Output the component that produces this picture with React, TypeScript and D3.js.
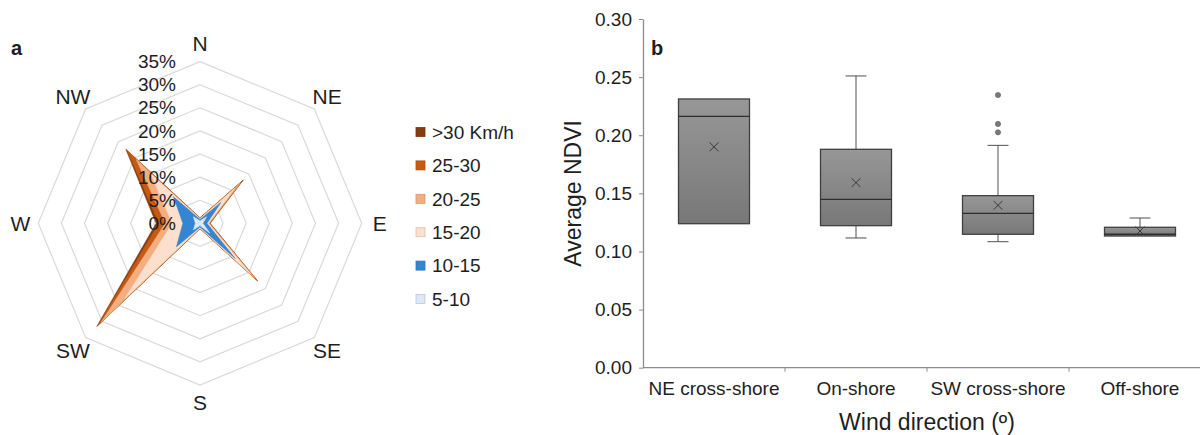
import React, { useEffect, useRef } from 'react';
import * as d3 from 'd3';

// ---- panel a : wind rose (cumulative % per direction) ----
const directions = ['N', 'NE', 'E', 'SE', 'S', 'SW', 'W', 'NW'];
const speedClasses = ['>30 Km/h', '25-30', '20-25', '15-20', '10-15', '5-10'];
const speedColors = ['#863c10', '#c55a14', '#f4ad7e', '#fcdfcc', '#3586d2', '#dbe8f6'];
const over30 = [1.2, 13.3, 2.2, 17.7, 1.2, 31.6, 9.5, 22.7];
const from25to30 = [1.1, 13.0, 2.1, 17.4, 1.1, 31.2, 8.9, 22.2];
const from20to25 = [1.0, 12.3, 2.0, 16.8, 1.0, 30.2, 7.5, 19.5];
const from15to20 = [1.0, 10.5, 1.8, 15.5, 1.0, 23.0, 6.0, 15.0];
const from10to15 = [0.8, 6.4, 1.5, 10.8, 0.8, 7.2, 3.7, 8.1];
const from5to10 = [0.5, 2.0, 0.6, 3.0, 0.5, 2.0, 1.0, 2.0];
const roseSeries = [over30, from25to30, from20to25, from15to20, from10to15, from5to10];
const ringTicks = [0, 5, 10, 15, 20, 25, 30, 35];

// ---- panel b : NDVI box plot ----
const windGroups = ['NE cross-shore', 'On-shore', 'SW cross-shore', 'Off-shore'];
const whiskerLow = [0.1239, 0.1116, 0.1084, 0.1133];
const q1 = [0.1239, 0.1222, 0.1148, 0.1133];
const median = [0.2163, 0.1449, 0.1328, 0.1148];
const q3 = [0.2312, 0.1879, 0.148, 0.1208];
const whiskerHigh = [0.2312, 0.251, 0.1913, 0.1288];
const meanNdvi = [0.19, 0.1592, 0.1397, 0.1176];
const outliers = [[], [], [0.2346, 0.2097, 0.2025], []];
const ndviTicks = [0, 0.05, 0.1, 0.15, 0.2, 0.25, 0.3];

const font = '"Liberation Sans", Arial, sans-serif';
const textColor = '#1e1e1e';

export default function App() {
  const svgRef = useRef<SVGSVGElement>(null);

  useEffect(() => {
    const svg = d3.select(svgRef.current);
    svg.selectAll('*').remove();

    // ===== wind rose =====
    const cx = 200;
    const cy = 223.3;
    const rScale = d3.scaleLinear().domain([0, 35]).range([0, 161.7]);
    const angle = (i: number) => (i * Math.PI * 2) / directions.length;

    const rose = svg.append('g').attr('transform', `translate(${cx},${cy})`);

    const ringLine = d3
      .lineRadial<number>()
      .angle((_, i) => angle(i))
      .radius((d) => rScale(d))
      .curve(d3.curveLinearClosed);

    ringTicks
      .filter((t) => t > 0)
      .forEach((t) => {
        rose
          .append('path')
          .attr('d', ringLine(directions.map(() => t)))
          .attr('fill', 'none')
          .attr('stroke', '#d9d9d9')
          .attr('stroke-width', 1.2);
      });

    roseSeries.forEach((vals, k) => {
      rose
        .append('path')
        .attr('d', ringLine(vals))
        .attr('fill', speedColors[k])
        .attr('stroke', speedColors[k])
        .attr('stroke-width', 0.6)
        .attr('stroke-linejoin', 'miter');
    });

    // ring labels along the N axis
    rose
      .selectAll('text.ring')
      .data(ringTicks)
      .enter()
      .append('text')
      .attr('x', -24)
      .attr('y', (d) => -rScale(d))
      .attr('dy', '0.35em')
      .attr('text-anchor', 'end')
      .style('font-family', font)
      .style('font-size', '19px')
      .style('fill', textColor)
      .text((d) => `${d}%`);

    // direction labels
    rose
      .selectAll('text.dir')
      .data(directions)
      .enter()
      .append('text')
      .attr('x', (_, i) => Math.sin(angle(i)) * (rScale(35) + 18))
      .attr('y', (_, i) => -Math.cos(angle(i)) * (rScale(35) + 18))
      .attr('dy', '0.35em')
      .attr('text-anchor', 'middle')
      .style('font-family', font)
      .style('font-size', '21px')
      .style('fill', textColor)
      .text((d) => d);

    svg
      .append('text')
      .attr('x', 11)
      .attr('y', 55)
      .style('font-family', font)
      .style('font-size', '20px')
      .style('font-weight', 'bold')
      .style('fill', textColor)
      .text('a');

    // legend
    const legend = svg.append('g').attr('transform', 'translate(416,132)');
    speedClasses.forEach((label, k) => {
      const row = legend.append('g').attr('transform', `translate(0,${k * 33.4})`);
      row
        .append('rect')
        .attr('x', 0)
        .attr('y', -4.5)
        .attr('width', 9)
        .attr('height', 9)
        .attr('fill', speedColors[k])
        .attr('stroke', d3.color(speedColors[k])!.darker(0.4).toString())
        .attr('stroke-width', 0.8);
      row
        .append('text')
        .attr('x', 16)
        .attr('y', 0)
        .attr('dy', '0.36em')
        .style('font-family', font)
        .style('font-size', '19px')
        .style('fill', textColor)
        .text(label);
    });

    // ===== box plot =====
    const x = d3.scaleBand().domain(windGroups).range([643, 1211]).padding(0);
    const y = d3.scaleLinear().domain([0, 0.3]).range([367.7, 19]);
    const boxW = x.bandwidth() * 0.5;
    const capW = 21;

    const defs = svg.append('defs');
    const grad = defs
      .append('linearGradient')
      .attr('id', 'boxFill')
      .attr('x1', 0)
      .attr('y1', 0)
      .attr('x2', 0)
      .attr('y2', 1);
    grad.append('stop').attr('offset', '0%').attr('stop-color', '#979797');
    grad.append('stop').attr('offset', '100%').attr('stop-color', '#787878');

    const yAxis = svg
      .append('g')
      .attr('transform', 'translate(643,0)')
      .call(
        d3
          .axisLeft(y)
          .tickValues(ndviTicks)
          .tickFormat(d3.format('.2f'))
          .tickSize(4)
          .tickSizeOuter(0)
          .tickPadding(7)
      );
    yAxis.select('.domain').attr('stroke', '#8c8c8c').attr('stroke-width', 1.3);
    yAxis.selectAll('.tick line').attr('stroke', '#8c8c8c');
    yAxis
      .selectAll('.tick text')
      .style('font-family', font)
      .style('font-size', '19px')
      .style('fill', textColor);

    const xAxis = svg.append('g').attr('transform', `translate(0,${y(0)})`);
    xAxis
      .append('line')
      .attr('x1', 643)
      .attr('x2', 1211)
      .attr('stroke', '#8c8c8c')
      .attr('stroke-width', 1.3);
    xAxis
      .selectAll('line.tick')
      .data(windGroups.slice(1))
      .enter()
      .append('line')
      .attr('x1', (d) => x(d)!)
      .attr('x2', (d) => x(d)!)
      .attr('y1', 0)
      .attr('y2', 4)
      .attr('stroke', '#8c8c8c');
    xAxis
      .selectAll('text')
      .data(windGroups)
      .enter()
      .append('text')
      .attr('x', (d) => x(d)! + x.bandwidth() / 2)
      .attr('y', 27)
      .attr('text-anchor', 'middle')
      .style('font-family', font)
      .style('font-size', '19px')
      .style('fill', textColor)
      .text((d) => d);

    svg
      .append('text')
      .attr('x', 927)
      .attr('y', 430)
      .attr('text-anchor', 'middle')
      .style('font-family', font)
      .style('font-size', '23px')
      .style('fill', textColor)
      .text('Wind direction (º)');

    svg
      .append('text')
      .attr('transform', `translate(581,${(y(0.3) + y(0)) / 2}) rotate(-90)`)
      .attr('text-anchor', 'middle')
      .style('font-family', font)
      .style('font-size', '23px')
      .style('fill', textColor)
      .text('Average NDVI');

    svg
      .append('text')
      .attr('x', 651)
      .attr('y', 55)
      .style('font-family', font)
      .style('font-size', '20px')
      .style('font-weight', 'bold')
      .style('fill', textColor)
      .text('b');

    windGroups.forEach((g, i) => {
      const c = x(g)! + x.bandwidth() / 2;
      const grp = svg.append('g');
      const stroke = '#505050';
      if (whiskerHigh[i] > q3[i]) {
        grp.append('line').attr('x1', c).attr('x2', c).attr('y1', y(q3[i])).attr('y2', y(whiskerHigh[i])).attr('stroke', stroke);
        grp.append('line').attr('x1', c - capW / 2).attr('x2', c + capW / 2).attr('y1', y(whiskerHigh[i])).attr('y2', y(whiskerHigh[i])).attr('stroke', stroke);
      }
      if (whiskerLow[i] < q1[i]) {
        grp.append('line').attr('x1', c).attr('x2', c).attr('y1', y(q1[i])).attr('y2', y(whiskerLow[i])).attr('stroke', stroke);
        grp.append('line').attr('x1', c - capW / 2).attr('x2', c + capW / 2).attr('y1', y(whiskerLow[i])).attr('y2', y(whiskerLow[i])).attr('stroke', stroke);
      }
      grp
        .append('rect')
        .attr('x', c - boxW / 2)
        .attr('y', y(q3[i]))
        .attr('width', boxW)
        .attr('height', y(q1[i]) - y(q3[i]))
        .attr('fill', 'url(#boxFill)')
        .attr('stroke', '#404040')
        .attr('stroke-width', 1.3);
      grp
        .append('line')
        .attr('x1', c - boxW / 2)
        .attr('x2', c + boxW / 2)
        .attr('y1', y(median[i]))
        .attr('y2', y(median[i]))
        .attr('stroke', '#2e2e2e')
        .attr('stroke-width', 1.3);
      const m = y(meanNdvi[i]);
      const s = 4.5;
      grp
        .append('path')
        .attr('d', `M${c - s},${m - s}L${c + s},${m + s}M${c - s},${m + s}L${c + s},${m - s}`)
        .attr('stroke', '#3a3a3a')
        .attr('stroke-width', 1);
      grp
        .selectAll('circle')
        .data(outliers[i])
        .enter()
        .append('circle')
        .attr('cx', c)
        .attr('cy', (d) => y(d))
        .attr('r', 2.6)
        .attr('fill', '#7a7a7a')
        .attr('stroke', '#5a5a5a')
        .attr('stroke-width', 0.6);
    });
  }, []);

  return (
    <svg
      ref={svgRef}
      width={1200}
      height={435}
      style={{ position: 'absolute', left: 0, top: 0, background: '#fff' }}
    />
  );
}
